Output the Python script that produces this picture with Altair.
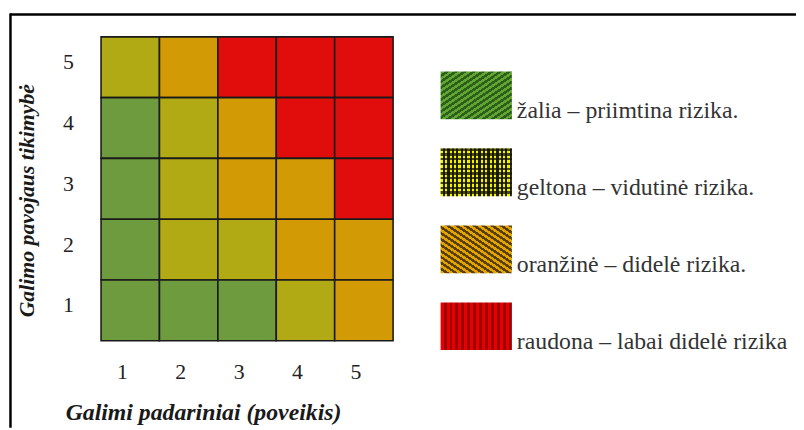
import altair as alt
import pandas as pd

# ---- data ----
impact = [1, 2, 3, 4, 5]                    # Galimi padariniai (x)
likelihood = [5, 4, 3, 2, 1]                # Galimo pavojaus tikimybė (y), top to bottom
risk_grid = [                               # one row per likelihood, columns = impact 1..5
    ["geltona", "oranžinė", "raudona", "raudona", "raudona"],
    ["žalia", "geltona", "oranžinė", "raudona", "raudona"],
    ["žalia", "geltona", "oranžinė", "oranžinė", "raudona"],
    ["žalia", "geltona", "geltona", "oranžinė", "oranžinė"],
    ["žalia", "žalia", "žalia", "geltona", "oranžinė"],
]
levels = ["žalia", "geltona", "oranžinė", "raudona"]
level_colors = ["#6d9b3d", "#b2aa14", "#d29a05", "#e10c0c"]
legend_labels = [
    "žalia – priimtina rizika.",
    "geltona – vidutinė rizika.",
    "oranžinė – didelė rizika.",
    "raudona – labai didelė rizika",
]

rows = []
for r, lik in enumerate(likelihood):
    for c, imp in enumerate(impact):
        rows.append({"impact": imp, "likelihood": lik, "level": risk_grid[r][c]})
cells = pd.DataFrame(rows)
legend_df = pd.DataFrame({"idx": list(range(len(legend_labels))), "label": legend_labels})

SERIF = "Liberation Serif"


def stripes(c1, c2, n, x1, y1, x2, y2):
    stops = []
    for i in range(n):
        stops += [
            {"offset": i / n, "color": c1},
            {"offset": (i + 0.5) / n, "color": c1},
            {"offset": (i + 0.5) / n, "color": c2},
            {"offset": (i + 1) / n, "color": c2},
        ]
    return {"gradient": "linear", "x1": x1, "y1": y1, "x2": x2, "y2": y2, "stops": stops}


heat = alt.Chart(cells).mark_rect(stroke="#1a1a1a", strokeWidth=1.6).encode(
    x=alt.X("impact:O", sort=impact,
            axis=alt.Axis(title="Galimi padariniai (poveikis)", labelOffset=-8, labelPadding=21,
                          titleX=103, titleY=80, titleBaseline="alphabetic", titleAlign="center",
                          titleAnchor="start", titleFontSize=24)),
    y=alt.Y("likelihood:O", sort=likelihood,
            axis=alt.Axis(title="Galimo pavojaus tikimybė", labelOffset=-5, labelPadding=28,
                          titleX=-75, titleY=165, titleBaseline="middle", titleAlign="center",
                          titleAngle=270, titleAnchor="start", titleFontSize=22)),
    fill=alt.Fill("level:N", scale=alt.Scale(domain=levels, range=level_colors), legend=None),
)

yscale = alt.Scale(domain=[0, 4], range=[35, 346])
box_h = 0.62


def legend_box(i, fill):
    return alt.Chart(legend_df).transform_filter(f"datum.idx == {i}").transform_calculate(
        y2="datum.idx + %f" % box_h
    ).mark_rect(fill=fill).encode(
        x=alt.value(343), x2=alt.value(415),
        y=alt.Y("idx:Q", scale=yscale, axis=None),
        y2="y2:Q",
    )


green_box = legend_box(0, stripes("#5fa531", "#2f5e1a", 16, 0, 0, 1, 1))
yellow_box = legend_box(1, stripes("#f2f200", "#1e1e00", 16, 0, 0, 1, 0))
yellow_box2 = legend_box(1, stripes("rgba(20,20,0,0.75)", "rgba(0,0,0,0)", 10, 0, 0, 0, 1))
orange_box = legend_box(2, stripes("#e3a400", "#5a4000", 16, 0, 1, 1, 0))
red_box = legend_box(3, stripes("#e80000", "#9a0000", 12, 0, 0, 1, 0))

legend_text = alt.Chart(legend_df).mark_text(
    align="left", baseline="alphabetic", font=SERIF, fontSize=24, color="#333333"
).encode(
    x=alt.value(420),
    y=alt.Y("ty:Q", scale=yscale, axis=None),
    text="label:N",
).transform_calculate(ty="datum.idx + 0.6")

frame_data = pd.DataFrame({"k": [0]})
frame_top = alt.Chart(frame_data).mark_rule(color="#000000", strokeWidth=2.5).encode(
    x=alt.value(-92), x2=alt.value(702), y=alt.value(-22.5)
)
frame_left = alt.Chart(frame_data).mark_rule(color="#000000", strokeWidth=2.5).encode(
    x=alt.value(-91.5), y=alt.value(-23.5), y2=alt.value(395)
)

chart = alt.layer(
    heat, green_box, yellow_box, yellow_box2, orange_box, red_box, legend_text, frame_top, frame_left
).resolve_scale(y="independent", x="independent").properties(
    width=295, height=307,
    autosize=alt.AutoSizeParams(type="none"),
    padding={"left": 94, "top": 27, "right": 407, "bottom": 86},
    background="white",
).configure(font=SERIF).configure_view(stroke="transparent").configure_axis(
    domain=False, ticks=False, grid=False,
    labelFont=SERIF, labelFontSize=22, labelColor="#222222", labelAngle=0,
    titleFont=SERIF, titleFontStyle="italic", titleFontWeight="bold",
    titleColor="#1a1a1a",
)

chart.save("out.html", embed_options={"renderer": "svg", "actions": False})
